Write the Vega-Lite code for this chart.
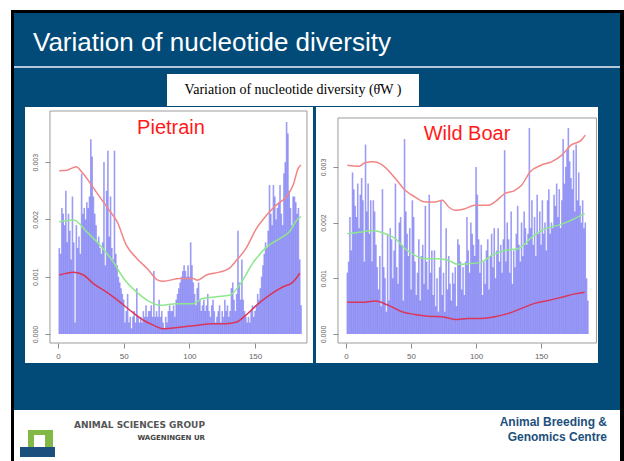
{
  "$schema": "https://vega.github.io/schema/vega-lite/v6.json",
  "padding": 0,
  "background": "#024b79",
  "config": {"view": {"stroke": null}, "concat": {"spacing": 0}, "font": "Liberation Sans"},
  "datasets": {
    "pietrainBars": [
      {"pos":1,"theta":0.0015},{"pos":2,"theta":0.0014},{"pos":3,"theta":0.0022},{"pos":4,"theta":0.0021},{"pos":5,"theta":0.0019},{"pos":6,"theta":0.0025},{"pos":7,"theta":0.0016},{"pos":8,"theta":0.0021},{"pos":9,"theta":0.0018},{"pos":10,"theta":0.0013},
      {"pos":11,"theta":0.0024},{"pos":12,"theta":0.0016},{"pos":13,"theta":0.0002},{"pos":14,"theta":0.0019},{"pos":15,"theta":0.0015},{"pos":16,"theta":0.0017},{"pos":17,"theta":0.0014},{"pos":18,"theta":0.0028},{"pos":19,"theta":0.0021},{"pos":20,"theta":0.0022},
      {"pos":21,"theta":0.0020},{"pos":22,"theta":0.0023},{"pos":23,"theta":0.0022},{"pos":24,"theta":0.0024},{"pos":25,"theta":0.0034},{"pos":26,"theta":0.0031},{"pos":27,"theta":0.0024},{"pos":28,"theta":0.0021},{"pos":29,"theta":0.0019},{"pos":30,"theta":0.0016},
      {"pos":31,"theta":0.0017},{"pos":32,"theta":0.0015},{"pos":33,"theta":0.0014},{"pos":34,"theta":0.0016},{"pos":35,"theta":0.0030},{"pos":36,"theta":0.0012},{"pos":37,"theta":0.0025},{"pos":38,"theta":0.0032},{"pos":39,"theta":0.0017},{"pos":40,"theta":0.0024},
      {"pos":41,"theta":0.0015},{"pos":42,"theta":0.0013},{"pos":43,"theta":0.0032},{"pos":44,"theta":0.0014},{"pos":45,"theta":0.0012},{"pos":46,"theta":0.0010},{"pos":47,"theta":0.0009},{"pos":48,"theta":0.0008},{"pos":49,"theta":0.0007},{"pos":50,"theta":0.0006},
      {"pos":51,"theta":0.0002},{"pos":52,"theta":0.0004},{"pos":53,"theta":0.0007},{"pos":54,"theta":0.0002},{"pos":55,"theta":0.0003},{"pos":56,"theta":0.0001},{"pos":57,"theta":0.0003},{"pos":58,"theta":0.0004},{"pos":59,"theta":0.0002},{"pos":60,"theta":0.0008},
      {"pos":61,"theta":0.0003},{"pos":62,"theta":0.0002},{"pos":63,"theta":0.0003},{"pos":64,"theta":0.0002},{"pos":65,"theta":0.0004},{"pos":66,"theta":0.0003},{"pos":67,"theta":0.0005},{"pos":68,"theta":0.0003},{"pos":69,"theta":0.0004},{"pos":70,"theta":0.0004},
      {"pos":71,"theta":0.0005},{"pos":72,"theta":0.0003},{"pos":73,"theta":0.0011},{"pos":74,"theta":0.0003},{"pos":75,"theta":0.0004},{"pos":76,"theta":0.0003},{"pos":77,"theta":0.0006},{"pos":78,"theta":0.0003},{"pos":79,"theta":0.0004},{"pos":80,"theta":0.0002},
      {"pos":81,"theta":0.0001},{"pos":82,"theta":0.0003},{"pos":83,"theta":0.0002},{"pos":84,"theta":0.0004},{"pos":85,"theta":0.0005},{"pos":86,"theta":0.0004},{"pos":87,"theta":0.0004},{"pos":88,"theta":0.0005},{"pos":89,"theta":0.0003},{"pos":90,"theta":0.0006},
      {"pos":91,"theta":0.0007},{"pos":92,"theta":0.0008},{"pos":93,"theta":0.0009},{"pos":94,"theta":0.0010},{"pos":95,"theta":0.0011},{"pos":96,"theta":0.0012},{"pos":97,"theta":0.0011},{"pos":98,"theta":0.0010},{"pos":99,"theta":0.0012},{"pos":100,"theta":0.0010},
      {"pos":101,"theta":0.0016},{"pos":102,"theta":0.0012},{"pos":103,"theta":0.0009},{"pos":104,"theta":0.0007},{"pos":105,"theta":0.0005},{"pos":106,"theta":0.0008},{"pos":107,"theta":0.0009},{"pos":108,"theta":0.0006},{"pos":109,"theta":0.0004},{"pos":110,"theta":0.0005},
      {"pos":111,"theta":0.0006},{"pos":112,"theta":0.0004},{"pos":113,"theta":0.0005},{"pos":114,"theta":0.0007},{"pos":115,"theta":0.0004},{"pos":116,"theta":0.0003},{"pos":117,"theta":0.0005},{"pos":118,"theta":0.0006},{"pos":119,"theta":0.0004},{"pos":120,"theta":0.0002},
      {"pos":121,"theta":0.0003},{"pos":122,"theta":0.0004},{"pos":123,"theta":0.0005},{"pos":124,"theta":0.0002},{"pos":125,"theta":0.0004},{"pos":126,"theta":0.0003},{"pos":127,"theta":0.0006},{"pos":128,"theta":0.0004},{"pos":129,"theta":0.0005},{"pos":130,"theta":0.0003},
      {"pos":131,"theta":0.0004},{"pos":132,"theta":0.0008},{"pos":133,"theta":0.0009},{"pos":134,"theta":0.0006},{"pos":135,"theta":0.0004},{"pos":136,"theta":0.0007},{"pos":137,"theta":0.0018},{"pos":138,"theta":0.0009},{"pos":139,"theta":0.0006},{"pos":140,"theta":0.0013},
      {"pos":141,"theta":0.0006},{"pos":142,"theta":0.0004},{"pos":143,"theta":0.0003},{"pos":144,"theta":0.0002},{"pos":145,"theta":0.0003},{"pos":146,"theta":0.0002},{"pos":147,"theta":0.0004},{"pos":148,"theta":0.0005},{"pos":149,"theta":0.0003},{"pos":150,"theta":0.0004},
      {"pos":151,"theta":0.0005},{"pos":152,"theta":0.0007},{"pos":153,"theta":0.0006},{"pos":154,"theta":0.0008},{"pos":155,"theta":0.0010},{"pos":156,"theta":0.0012},{"pos":157,"theta":0.0014},{"pos":158,"theta":0.0016},{"pos":159,"theta":0.0015},{"pos":160,"theta":0.0018},
      {"pos":161,"theta":0.0026},{"pos":162,"theta":0.0021},{"pos":163,"theta":0.0019},{"pos":164,"theta":0.0026},{"pos":165,"theta":0.0024},{"pos":166,"theta":0.0020},{"pos":167,"theta":0.0022},{"pos":168,"theta":0.0023},{"pos":169,"theta":0.0026},{"pos":170,"theta":0.0021},
      {"pos":171,"theta":0.0019},{"pos":172,"theta":0.0028},{"pos":173,"theta":0.0030},{"pos":174,"theta":0.0037},{"pos":175,"theta":0.0035},{"pos":176,"theta":0.0025},{"pos":177,"theta":0.0022},{"pos":178,"theta":0.0019},{"pos":179,"theta":0.0024},{"pos":180,"theta":0.0024},
      {"pos":181,"theta":0.0023},{"pos":182,"theta":0.0021},{"pos":183,"theta":0.0022},{"pos":184,"theta":0.0013},{"pos":185,"theta":0.0005}
    ],
    "boarBars": [
      {"pos":1,"theta":0.0011},{"pos":2,"theta":0.0013},{"pos":3,"theta":0.0021},{"pos":4,"theta":0.0015},{"pos":5,"theta":0.0029},{"pos":6,"theta":0.0026},{"pos":7,"theta":0.0023},{"pos":8,"theta":0.0021},{"pos":9,"theta":0.0027},{"pos":10,"theta":0.0019},
      {"pos":11,"theta":0.0025},{"pos":12,"theta":0.0028},{"pos":13,"theta":0.0024},{"pos":14,"theta":0.0013},{"pos":15,"theta":0.0034},{"pos":16,"theta":0.0022},{"pos":17,"theta":0.0027},{"pos":18,"theta":0.0018},{"pos":19,"theta":0.0024},{"pos":20,"theta":0.0013},
      {"pos":21,"theta":0.0024},{"pos":22,"theta":0.0022},{"pos":23,"theta":0.0016},{"pos":24,"theta":0.0012},{"pos":25,"theta":0.0008},{"pos":26,"theta":0.0014},{"pos":27,"theta":0.0005},{"pos":28,"theta":0.0026},{"pos":29,"theta":0.0012},{"pos":30,"theta":0.0010},
      {"pos":31,"theta":0.0004},{"pos":32,"theta":0.0018},{"pos":33,"theta":0.0006},{"pos":34,"theta":0.0019},{"pos":35,"theta":0.0017},{"pos":36,"theta":0.0010},{"pos":37,"theta":0.0015},{"pos":38,"theta":0.0027},{"pos":39,"theta":0.0012},{"pos":40,"theta":0.0009},
      {"pos":41,"theta":0.0020},{"pos":42,"theta":0.0021},{"pos":43,"theta":0.0016},{"pos":44,"theta":0.0006},{"pos":45,"theta":0.0035},{"pos":46,"theta":0.0022},{"pos":47,"theta":0.0018},{"pos":48,"theta":0.0014},{"pos":49,"theta":0.0019},{"pos":50,"theta":0.0008},
      {"pos":51,"theta":0.0024},{"pos":52,"theta":0.0021},{"pos":53,"theta":0.0013},{"pos":54,"theta":0.0007},{"pos":55,"theta":0.0011},{"pos":56,"theta":0.0017},{"pos":57,"theta":0.0006},{"pos":58,"theta":0.0014},{"pos":59,"theta":0.0016},{"pos":60,"theta":0.0009},
      {"pos":61,"theta":0.0023},{"pos":62,"theta":0.0013},{"pos":63,"theta":0.0008},{"pos":64,"theta":0.0025},{"pos":65,"theta":0.0011},{"pos":66,"theta":0.0015},{"pos":67,"theta":0.0007},{"pos":68,"theta":0.0015},{"pos":69,"theta":0.0005},{"pos":70,"theta":0.0010},
      {"pos":71,"theta":0.0004},{"pos":72,"theta":0.0012},{"pos":73,"theta":0.0024},{"pos":74,"theta":0.0007},{"pos":75,"theta":0.0011},{"pos":76,"theta":0.0004},{"pos":77,"theta":0.0019},{"pos":78,"theta":0.0008},{"pos":79,"theta":0.0014},{"pos":80,"theta":0.0009},
      {"pos":81,"theta":0.0006},{"pos":82,"theta":0.0011},{"pos":83,"theta":0.0009},{"pos":84,"theta":0.0012},{"pos":85,"theta":0.0005},{"pos":86,"theta":0.0017},{"pos":87,"theta":0.0016},{"pos":88,"theta":0.0013},{"pos":89,"theta":0.0008},{"pos":90,"theta":0.0012},
      {"pos":91,"theta":0.0007},{"pos":92,"theta":0.0013},{"pos":93,"theta":0.0021},{"pos":94,"theta":0.0015},{"pos":95,"theta":0.0011},{"pos":96,"theta":0.0020},{"pos":97,"theta":0.0018},{"pos":98,"theta":0.0016},{"pos":99,"theta":0.0014},{"pos":100,"theta":0.0030},
      {"pos":101,"theta":0.0025},{"pos":102,"theta":0.0017},{"pos":103,"theta":0.0011},{"pos":104,"theta":0.0016},{"pos":105,"theta":0.0007},{"pos":106,"theta":0.0013},{"pos":107,"theta":0.0009},{"pos":108,"theta":0.0015},{"pos":109,"theta":0.0017},{"pos":110,"theta":0.0008},
      {"pos":111,"theta":0.0014},{"pos":112,"theta":0.0018},{"pos":113,"theta":0.0012},{"pos":114,"theta":0.0019},{"pos":115,"theta":0.0010},{"pos":116,"theta":0.0015},{"pos":117,"theta":0.0019},{"pos":118,"theta":0.0013},{"pos":119,"theta":0.0016},{"pos":120,"theta":0.0011},
      {"pos":121,"theta":0.0017},{"pos":122,"theta":0.0033},{"pos":123,"theta":0.0013},{"pos":124,"theta":0.0020},{"pos":125,"theta":0.0017},{"pos":126,"theta":0.0011},{"pos":127,"theta":0.0022},{"pos":128,"theta":0.0009},{"pos":129,"theta":0.0015},{"pos":130,"theta":0.0012},
      {"pos":131,"theta":0.0018},{"pos":132,"theta":0.0023},{"pos":133,"theta":0.0016},{"pos":134,"theta":0.0013},{"pos":135,"theta":0.0020},{"pos":136,"theta":0.0014},{"pos":137,"theta":0.0022},{"pos":138,"theta":0.0019},{"pos":139,"theta":0.0016},{"pos":140,"theta":0.0018},
      {"pos":141,"theta":0.0037},{"pos":142,"theta":0.0019},{"pos":143,"theta":0.0024},{"pos":144,"theta":0.0016},{"pos":145,"theta":0.0021},{"pos":146,"theta":0.0014},{"pos":147,"theta":0.0025},{"pos":148,"theta":0.0018},{"pos":149,"theta":0.0022},{"pos":150,"theta":0.0016},
      {"pos":151,"theta":0.0024},{"pos":152,"theta":0.0018},{"pos":153,"theta":0.0020},{"pos":154,"theta":0.0015},{"pos":155,"theta":0.0024},{"pos":156,"theta":0.0026},{"pos":157,"theta":0.0018},{"pos":158,"theta":0.0020},{"pos":159,"theta":0.0019},{"pos":160,"theta":0.0025},
      {"pos":161,"theta":0.0023},{"pos":162,"theta":0.0027},{"pos":163,"theta":0.0021},{"pos":164,"theta":0.0026},{"pos":165,"theta":0.0019},{"pos":166,"theta":0.0024},{"pos":167,"theta":0.0035},{"pos":168,"theta":0.0027},{"pos":169,"theta":0.0030},{"pos":170,"theta":0.0033},
      {"pos":171,"theta":0.0037},{"pos":172,"theta":0.0031},{"pos":173,"theta":0.0028},{"pos":174,"theta":0.0026},{"pos":175,"theta":0.0033},{"pos":176,"theta":0.0022},{"pos":177,"theta":0.0034},{"pos":178,"theta":0.0024},{"pos":179,"theta":0.0029},{"pos":180,"theta":0.0023},
      {"pos":181,"theta":0.0020},{"pos":182,"theta":0.0024},{"pos":183,"theta":0.0019},{"pos":184,"theta":0.0020},{"pos":185,"theta":0.0010},{"pos":186,"theta":0.0006}
    ],
    "pietrainLines": [
      {"series":"upper","pos":1,"theta":0.00285},{"series":"upper","pos":7,"theta":0.00286},{"series":"upper","pos":14,"theta":0.00292},{"series":"upper","pos":18,"theta":0.00283},{"series":"upper","pos":24,"theta":0.00265},{"series":"upper","pos":30,"theta":0.00245},{"series":"upper","pos":40,"theta":0.00213},{"series":"upper","pos":45,"theta":0.00196},{"series":"upper","pos":52,"theta":0.00155},{"series":"upper","pos":60,"theta":0.00132},{"series":"upper","pos":68,"theta":0.00114},{"series":"upper","pos":76,"theta":0.00094},{"series":"upper","pos":80,"theta":0.00092},{"series":"upper","pos":93,"theta":0.00097},{"series":"upper","pos":103,"theta":0.00097},{"series":"upper","pos":106,"theta":0.00094},{"series":"upper","pos":113,"theta":0.00103},{"series":"upper","pos":123,"theta":0.00108},{"series":"upper","pos":130,"theta":0.00114},{"series":"upper","pos":136,"theta":0.00129},{"series":"upper","pos":143,"theta":0.00149},{"series":"upper","pos":151,"theta":0.00184},{"series":"upper","pos":159,"theta":0.00208},{"series":"upper","pos":166,"theta":0.00225},{"series":"upper","pos":174,"theta":0.0024},{"series":"upper","pos":179,"theta":0.0026},{"series":"upper","pos":183,"theta":0.0029},{"series":"upper","pos":185,"theta":0.00295},
      {"series":"mean","pos":1,"theta":0.00196},{"series":"mean","pos":12,"theta":0.00199},{"series":"mean","pos":22,"theta":0.00178},{"series":"mean","pos":32,"theta":0.00155},{"series":"mean","pos":42,"theta":0.00126},{"series":"mean","pos":50,"theta":0.00097},{"series":"mean","pos":60,"theta":0.00073},{"series":"mean","pos":70,"theta":0.00056},{"series":"mean","pos":78,"theta":0.0005},{"series":"mean","pos":90,"theta":0.00053},{"series":"mean","pos":103,"theta":0.00053},{"series":"mean","pos":110,"theta":0.00062},{"series":"mean","pos":121,"theta":0.00065},{"series":"mean","pos":131,"theta":0.00068},{"series":"mean","pos":138,"theta":0.00085},{"series":"mean","pos":149,"theta":0.00126},{"series":"mean","pos":159,"theta":0.00152},{"series":"mean","pos":169,"theta":0.00167},{"series":"mean","pos":176,"theta":0.00178},{"series":"mean","pos":183,"theta":0.00202},{"series":"mean","pos":185,"theta":0.00205},
      {"series":"lower","pos":1,"theta":0.00103},{"series":"lower","pos":12,"theta":0.00108},{"series":"lower","pos":19.5,"theta":0.00103},{"series":"lower","pos":27,"theta":0.00088},{"series":"lower","pos":37,"theta":0.00073},{"series":"lower","pos":47,"theta":0.00056},{"series":"lower","pos":55,"theta":0.00041},{"series":"lower","pos":65,"theta":0.00024},{"series":"lower","pos":73,"theta":0.00015},{"series":"lower","pos":80,"theta":0.00009},{"series":"lower","pos":93,"theta":0.00012},{"series":"lower","pos":105,"theta":0.00015},{"series":"lower","pos":118,"theta":0.00018},{"series":"lower","pos":128,"theta":0.00018},{"series":"lower","pos":136,"theta":0.00021},{"series":"lower","pos":143,"theta":0.00033},{"series":"lower","pos":151,"theta":0.0005},{"series":"lower","pos":161,"theta":0.00068},{"series":"lower","pos":171,"theta":0.00082},{"series":"lower","pos":179,"theta":0.00091},{"series":"lower","pos":184,"theta":0.00106}
    ],
    "boarLines": [
      {"series":"upper","pos":1,"theta":0.00303},{"series":"upper","pos":10,"theta":0.00301},{"series":"upper","pos":15,"theta":0.00308},{"series":"upper","pos":21,"theta":0.00309},{"series":"upper","pos":28,"theta":0.00303},{"series":"upper","pos":38,"theta":0.00279},{"series":"upper","pos":45.5,"theta":0.00258},{"series":"upper","pos":53,"theta":0.00246},{"series":"upper","pos":61,"theta":0.00237},{"series":"upper","pos":68.5,"theta":0.00237},{"series":"upper","pos":74,"theta":0.0024},{"series":"upper","pos":79,"theta":0.00228},{"series":"upper","pos":84,"theta":0.00222},{"series":"upper","pos":91.5,"theta":0.00225},{"series":"upper","pos":99,"theta":0.00231},{"series":"upper","pos":109.5,"theta":0.00231},{"series":"upper","pos":114.5,"theta":0.00237},{"series":"upper","pos":122,"theta":0.00252},{"series":"upper","pos":130,"theta":0.00258},{"series":"upper","pos":135,"theta":0.00267},{"series":"upper","pos":141.5,"theta":0.00291},{"series":"upper","pos":150,"theta":0.00303},{"series":"upper","pos":158,"theta":0.00309},{"series":"upper","pos":166,"theta":0.00321},{"series":"upper","pos":173,"theta":0.00339},{"series":"upper","pos":181,"theta":0.00348},{"series":"upper","pos":184,"theta":0.00357},
      {"series":"mean","pos":1,"theta":0.0018},{"series":"mean","pos":12,"theta":0.00183},{"series":"mean","pos":21,"theta":0.00186},{"series":"mean","pos":30,"theta":0.0018},{"series":"mean","pos":38,"theta":0.00171},{"series":"mean","pos":45.5,"theta":0.00153},{"series":"mean","pos":53,"theta":0.00141},{"series":"mean","pos":61,"theta":0.00135},{"series":"mean","pos":71,"theta":0.00135},{"series":"mean","pos":79,"theta":0.00132},{"series":"mean","pos":86,"theta":0.00125},{"series":"mean","pos":94,"theta":0.00126},{"series":"mean","pos":104,"theta":0.00129},{"series":"mean","pos":112,"theta":0.00141},{"series":"mean","pos":122,"theta":0.0015},{"series":"mean","pos":132.5,"theta":0.00153},{"series":"mean","pos":143,"theta":0.00174},{"series":"mean","pos":153,"theta":0.00189},{"series":"mean","pos":163,"theta":0.00195},{"series":"mean","pos":173,"theta":0.00204},{"series":"mean","pos":183.5,"theta":0.00216},
      {"series":"lower","pos":1,"theta":0.00057},{"series":"lower","pos":12,"theta":0.00057},{"series":"lower","pos":22.5,"theta":0.00059},{"series":"lower","pos":33,"theta":0.00051},{"series":"lower","pos":43,"theta":0.0004},{"series":"lower","pos":53,"theta":0.00035},{"series":"lower","pos":63,"theta":0.00032},{"series":"lower","pos":74,"theta":0.00031},{"series":"lower","pos":84,"theta":0.00026},{"series":"lower","pos":94,"theta":0.00028},{"series":"lower","pos":104,"theta":0.00028},{"series":"lower","pos":114.5,"theta":0.00031},{"series":"lower","pos":125,"theta":0.00037},{"series":"lower","pos":135,"theta":0.00046},{"series":"lower","pos":145,"theta":0.00055},{"series":"lower","pos":155.5,"theta":0.0006},{"series":"lower","pos":166,"theta":0.00066},{"series":"lower","pos":176,"theta":0.00072},{"series":"lower","pos":183.5,"theta":0.00075}
    ]
  },
  "spacing": 0,
  "hconcat": [
    {"width": 11, "height": 461, "data": {"values": []}, "mark": "point", "view": {"fill": "white", "stroke": null}},
    {"spacing": 0, "vconcat": [
      {"width": 3, "height": 10, "data": {"values": []}, "mark": "point", "view": {"fill": "white", "stroke": null}},
      {"width": 3, "height": 451, "data": {"values": []}, "mark": "point", "view": {"fill": "black", "stroke": null}}
    ]},
    {"spacing": 0, "vconcat": [
      {"width": 606, "height": 10, "data": {"values": []}, "mark": "point", "view": {"fill": "white", "stroke": null}},
      {"width": 606, "height": 3, "data": {"values": []}, "mark": "point", "view": {"fill": "black", "stroke": null}},
      {"width": 606, "height": 53, "data": {"values": []}, "mark": "point",
       "title": {"text": "Variation of nucleotide diversity", "anchor": "start", "frame": "group", "baseline": "alphabetic", "offset": -64, "dx": 19, "color": "white", "fontSize": 26, "fontWeight": "normal", "font": "Liberation Sans"}},
      {"width": 606, "height": 2, "data": {"values": []}, "mark": "point", "view": {"fill": "#b4c6da", "stroke": null}},
      {"width": 606, "height": 6, "data": {"values": []}, "mark": "point"},
      {"spacing": 0, "hconcat": [
        {"width": 153, "height": 32, "data": {"values": []}, "mark": "point"},
        {"width": 252, "height": 32, "data": {"values": [{"label": "Variation of nucleotide diversity (θ̂W )"}]},
         "view": {"fill": "white", "stroke": null},
         "mark": {"type": "text", "font": "Liberation Serif", "fontSize": 14, "color": "black"},
         "encoding": {"text": {"field": "label", "type": "nominal"}}}
      ]},
      {"width": 606, "height": 1, "data": {"values": []}, "mark": "point"},
      {"spacing": 0, "hconcat": [
        {"width": 11, "height": 256, "data": {"values": []}, "mark": "point"},
        {"width": 288, "height": 256,
         "view": {"fill": "white", "stroke": null},
         "title": {"text": "Pietrain", "color": "#ff1a1a", "fontSize": 20, "fontWeight": "normal", "font": "Liberation Sans", "anchor": "middle", "frame": "group", "baseline": "alphabetic", "offset": -47, "dx": 2},
         "layer": [
           {"data": {"values": [{}]},
            "mark": {"type": "rect", "filled": false, "color": "#9c9c9c", "strokeWidth": 1},
            "encoding": {
              "x": {"datum": -6.1, "type": "quantitative", "scale": {"domain": [-25.1, 194.1], "nice": false, "zero": false},
                    "axis": {"orient": "bottom", "offset": -20, "values": [0, 50, 100, 150], "domain": false, "grid": false, "tickSize": 5, "tickColor": "#8c8c8c", "labelColor": "#666666", "labelFontSize": 8, "labelPadding": 4, "labelFlush": false, "title": null}},
              "x2": {"datum": 189.5},
              "y": {"datum": 0.003892, "type": "quantitative", "scale": {"domain": [-0.000506, 0.003962], "nice": false, "zero": false},
                    "axis": {"orient": "left", "offset": -25, "values": [0, 0.001, 0.002, 0.003], "format": ".3f", "domain": false, "grid": false, "tickSize": 5, "tickColor": "#8c8c8c", "labelAngle": 270, "labelAlign": "center", "labelBaseline": "bottom", "labelPadding": 7, "labelFontSize": 7, "labelColor": "#666666", "labelFlush": false, "title": null}},
              "y2": {"datum": -0.000157}
            }},
           {"data": {"name": "pietrainBars"},
            "mark": {"type": "rule", "color": "#5a5af0", "strokeWidth": 1.6, "opacity": 0.6},
            "encoding": {"x": {"field": "pos", "type": "quantitative"}, "y": {"field": "theta", "type": "quantitative"}, "y2": {"datum": 0}}},
           {"data": {"name": "pietrainLines"},
            "mark": {"type": "line", "strokeWidth": 1.5, "interpolate": "monotone"},
            "encoding": {"x": {"field": "pos", "type": "quantitative"}, "y": {"field": "theta", "type": "quantitative"},
                         "color": {"field": "series", "type": "nominal", "scale": {"domain": ["upper", "mean", "lower"], "range": ["#f28585", "#8fe88f", "#d9365a"]}, "legend": null}}}
         ]},
        {"width": 3, "height": 256, "data": {"values": []}, "mark": "point"},
        {"width": 282, "height": 256,
         "view": {"fill": "white", "stroke": null},
         "title": {"text": "Wild Boar", "color": "#ff1a1a", "fontSize": 20, "fontWeight": "normal", "font": "Liberation Sans", "anchor": "middle", "frame": "group", "baseline": "alphabetic", "offset": -53, "dx": 10},
         "layer": [
           {"data": {"values": [{}]},
            "mark": {"type": "rect", "filled": false, "color": "#9c9c9c", "strokeWidth": 1},
            "encoding": {
              "x": {"datum": -6.2, "type": "quantitative", "scale": {"domain": [-23.1, 193.8], "nice": false, "zero": false},
                    "axis": {"orient": "bottom", "offset": -20, "values": [0, 50, 100, 150], "domain": false, "grid": false, "tickSize": 5, "tickColor": "#8c8c8c", "labelColor": "#666666", "labelFontSize": 8, "labelPadding": 4, "labelFlush": false, "title": null}},
              "x2": {"datum": 192.6},
              "y": {"datum": 0.003878, "type": "quantitative", "scale": {"domain": [-0.000521, 0.004075], "nice": false, "zero": false},
                    "axis": {"orient": "left", "offset": -22, "values": [0, 0.001, 0.002, 0.003], "format": ".3f", "domain": false, "grid": false, "tickSize": 5, "tickColor": "#8c8c8c", "labelAngle": 270, "labelAlign": "center", "labelBaseline": "bottom", "labelPadding": 7, "labelFontSize": 7, "labelColor": "#666666", "labelFlush": false, "title": null}},
              "y2": {"datum": -0.000162}
            }},
           {"data": {"name": "boarBars"},
            "mark": {"type": "rule", "color": "#5a5af0", "strokeWidth": 1.6, "opacity": 0.6},
            "encoding": {"x": {"field": "pos", "type": "quantitative"}, "y": {"field": "theta", "type": "quantitative"}, "y2": {"datum": 0}}},
           {"data": {"name": "boarLines"},
            "mark": {"type": "line", "strokeWidth": 1.5, "interpolate": "monotone"},
            "encoding": {"x": {"field": "pos", "type": "quantitative"}, "y": {"field": "theta", "type": "quantitative"},
                         "color": {"field": "series", "type": "nominal", "scale": {"domain": ["upper", "mean", "lower"], "range": ["#f28585", "#8fe88f", "#d9365a"]}, "legend": null}}}
         ]}
      ]},
      {"width": 606, "height": 47, "data": {"values": []}, "mark": "point"},
      {"spacing": 0, "hconcat": [
        {"width": 6, "height": 51, "data": {"values": []}, "mark": "point", "view": {"fill": "white", "stroke": null}},
        {"spacing": 0, "vconcat": [
          {"width": 35, "height": 20, "data": {"values": []}, "mark": "point", "view": {"fill": "white", "stroke": null}},
          {"spacing": 0, "hconcat": [
            {"width": 8, "height": 5, "data": {"values": []}, "mark": "point", "view": {"fill": "white", "stroke": null}},
            {"width": 25, "height": 5, "data": {"values": []}, "mark": "point", "view": {"fill": "#82b846", "stroke": null}},
            {"width": 2, "height": 5, "data": {"values": []}, "mark": "point", "view": {"fill": "white", "stroke": null}}
          ]},
          {"spacing": 0, "hconcat": [
            {"width": 8, "height": 12, "data": {"values": []}, "mark": "point", "view": {"fill": "white", "stroke": null}},
            {"width": 6, "height": 12, "data": {"values": []}, "mark": "point", "view": {"fill": "#82b846", "stroke": null}},
            {"width": 11, "height": 12, "data": {"values": []}, "mark": "point", "view": {"fill": "white", "stroke": null}},
            {"width": 8, "height": 12, "data": {"values": []}, "mark": "point", "view": {"fill": "#82b846", "stroke": null}},
            {"width": 2, "height": 12, "data": {"values": []}, "mark": "point", "view": {"fill": "white", "stroke": null}}
          ]},
          {"width": 35, "height": 10, "data": {"values": []}, "mark": "point", "view": {"fill": "#1b4f7e", "stroke": null}},
          {"width": 35, "height": 4, "data": {"values": []}, "mark": "point", "view": {"fill": "white", "stroke": null}}
        ]},
        {"width": 150, "height": 51, "data": {"values": []}, "mark": "point", "view": {"fill": "white", "stroke": null},
         "title": {"text": "ANIMAL SCIENCES GROUP", "subtitle": "WAGENINGEN UR", "anchor": "end", "frame": "group", "baseline": "alphabetic", "offset": -38, "color": "#555555", "fontSize": 9, "font": "DejaVu Sans", "fontWeight": "bold", "subtitleColor": "#444444", "subtitleFontSize": 7, "subtitleFont": "DejaVu Sans", "subtitleFontWeight": "bold", "subtitlePadding": 3}},
        {"width": 415, "height": 51, "data": {"values": []}, "mark": "point", "view": {"fill": "white", "stroke": null},
         "title": {"text": ["Animal Breeding &", "Genomics Centre"], "anchor": "end", "frame": "group", "baseline": "alphabetic", "offset": -43, "dx": -13, "lineHeight": 15, "color": "#1d4f7c", "fontSize": 12, "font": "Liberation Sans", "fontWeight": "bold"}}
      ]}
    ]},
    {"spacing": 0, "vconcat": [
      {"width": 4, "height": 10, "data": {"values": []}, "mark": "point", "view": {"fill": "white", "stroke": null}},
      {"width": 4, "height": 451, "data": {"values": []}, "mark": "point", "view": {"fill": "black", "stroke": null}}
    ]}
  ]
}
